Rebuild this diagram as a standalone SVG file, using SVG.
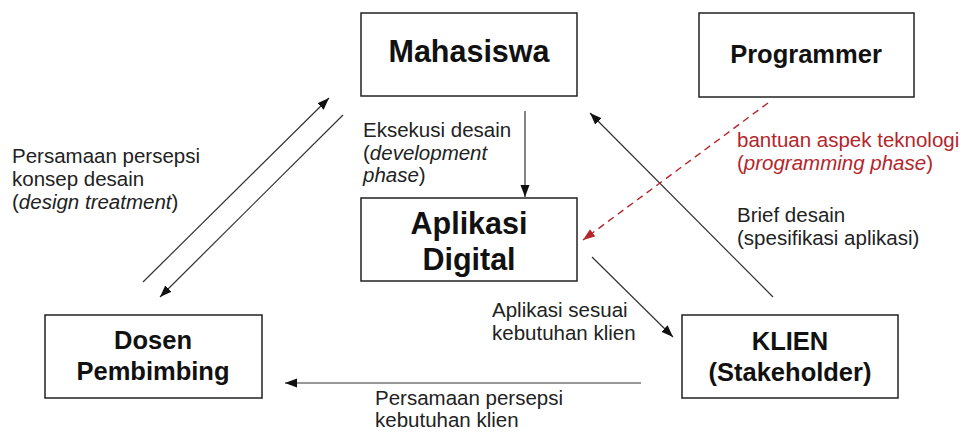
<svg xmlns="http://www.w3.org/2000/svg" width="962" height="432" viewBox="0 0 962 432">
<style>
text{font-family:"Liberation Sans",Arial,sans-serif;fill:#222}
.lbl{font-size:20.5px}
.red{fill:#b3262b}
.big{font-size:30.5px;font-weight:bold;fill:#111;text-anchor:middle}
.mid{font-size:25.5px;font-weight:bold;fill:#111;text-anchor:middle}
.box{fill:#fff;stroke:#222;stroke-width:1.5}
.ln{stroke:#333;stroke-width:1.2;fill:none}
.dash{stroke:#b3262b;stroke-width:1.4;stroke-dasharray:7 5;fill:none}
.i{font-style:italic}
</style>
<defs>
<marker id="ah" markerUnits="userSpaceOnUse" markerWidth="13" markerHeight="10" refX="12" refY="4.5" orient="auto">
<path d="M0,0 L12,4.5 L0,9 z" fill="#111"/>
</marker>
<marker id="ahr" markerUnits="userSpaceOnUse" markerWidth="13" markerHeight="10" refX="12" refY="4.5" orient="auto">
<path d="M0,0 L12,4.5 L0,9 z" fill="#b3262b"/>
</marker>
</defs>
<rect width="962" height="432" fill="#fff"/>
<g id="connectors">
<line class="ln" x1="525" y1="111" x2="525" y2="197" marker-end="url(#ah)"/>
<line class="ln" x1="143" y1="282" x2="329" y2="98" marker-end="url(#ah)"/>
<line class="ln" x1="343" y1="115" x2="160" y2="297" marker-end="url(#ah)"/>
<line class="ln" x1="773" y1="297" x2="590" y2="113" marker-end="url(#ah)"/>
<line class="dash" x1="768" y1="103" x2="583" y2="240" marker-end="url(#ahr)"/>
<line class="ln" x1="592" y1="257" x2="673" y2="337" marker-end="url(#ah)"/>
<line class="ln" x1="641" y1="383" x2="285" y2="383" marker-end="url(#ah)"/>
<text class="lbl" x="12" y="163">Persamaan persepsi</text>
<text class="lbl" x="12" y="186">konsep desain</text>
<text class="lbl" x="12" y="209">(<tspan class="i">design treatment</tspan>)</text>
<text class="lbl" x="363" y="137">Eksekusi desain</text>
<text class="lbl" x="363" y="159.5">(<tspan class="i">development</tspan></text>
<text class="lbl" x="363" y="182"><tspan class="i">phase</tspan>)</text>
<text class="lbl red" x="737" y="147">bantuan aspek teknologi</text>
<text class="lbl red" x="737" y="170">(<tspan class="i">programming phase</tspan>)</text>
<text class="lbl" x="737" y="222">Brief desain</text>
<text class="lbl" x="737" y="245">(spesifikasi aplikasi)</text>
<text class="lbl" x="492" y="317">Aplikasi sesuai</text>
<text class="lbl" x="492" y="340">kebutuhan klien</text>
<text class="lbl" x="375" y="405">Persamaan persepsi</text>
<text class="lbl" x="375" y="427">kebutuhan klien</text>
</g>
<g id="mahasiswa">
<rect class="box" x="361" y="13" width="216" height="83"/>
<text class="big" x="469" y="62">Mahasiswa</text>
</g>
<g id="programmer">
<rect class="box" x="699" y="13" width="215" height="84"/>
<text class="mid" x="806" y="63">Programmer</text>
</g>
<g id="aplikasi">
<rect class="box" x="361" y="198" width="216" height="83"/>
<text class="big" x="469" y="234">Aplikasi</text>
<text class="big" x="469" y="270">Digital</text>
</g>
<g id="dosen">
<rect class="box" x="45" y="315" width="217" height="83"/>
<text class="mid" x="153" y="349">Dosen</text>
<text class="mid" x="153" y="380">Pembimbing</text>
</g>
<g id="klien">
<rect class="box" x="682" y="315" width="216" height="83"/>
<text class="mid" x="790" y="350">KLIEN</text>
<text class="mid" x="790" y="381">(Stakeholder)</text>
</g>
</svg>
